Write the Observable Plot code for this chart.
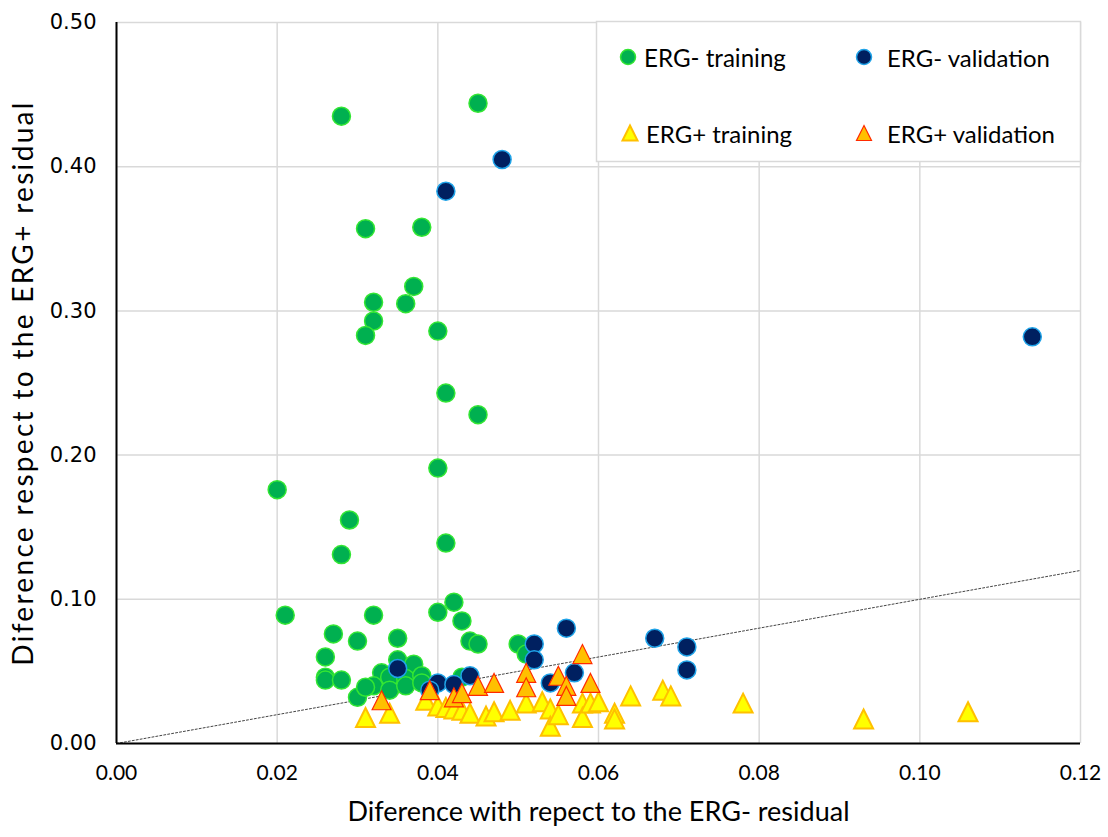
<!DOCTYPE html>
<html><head><meta charset="utf-8">
<script src="https://cdn.jsdelivr.net/npm/d3@7"></script>
<script src="https://cdn.jsdelivr.net/npm/@observablehq/plot@0.6"></script>
<style>
body{margin:0;background:#fff;}
#chart{position:relative;width:1108px;height:837px;}
</style></head><body><div id="chart"></div>
<script>
// ---- data ----
const seriesNames = ["ERG- training", "ERG- validation", "ERG+ training", "ERG+ validation"];
const xTicks = [0, 0.02, 0.04, 0.06, 0.08, 0.10, 0.12];
const yTicks = [0, 0.1, 0.2, 0.3, 0.4, 0.5];
const diagonal = [0, 0.12];
const xTitle = "Diference with repect to the ERG- residual";
const yTitle = "Diference respect to the ERG+ residual";

const ergMinusTrainX = [0.028,0.045,0.031,0.038,0.032,0.037,0.036,0.032,0.031,0.040,0.041,0.045,0.040,0.020,0.029,0.041,0.028,0.021,0.042,0.032,0.040,0.043,0.027,0.030,0.035,0.044,0.045,0.050,0.051,0.026,0.026,0.026,0.028,0.030,0.035,0.037,0.033,0.032,0.034,0.036,0.038,0.031,0.034,0.036,0.038,0.043];
const ergMinusTrainY = [0.435,0.444,0.357,0.358,0.306,0.317,0.305,0.293,0.283,0.286,0.243,0.228,0.191,0.176,0.155,0.139,0.131,0.089,0.098,0.089,0.091,0.085,0.076,0.071,0.073,0.071,0.069,0.069,0.062,0.060,0.046,0.044,0.044,0.032,0.058,0.055,0.049,0.040,0.046,0.045,0.047,0.039,0.037,0.040,0.042,0.046];

const ergMinusValX = [0.048,0.041,0.114,0.056,0.052,0.052,0.057,0.054,0.067,0.071,0.071,0.035,0.040,0.042,0.044,0.039];
const ergMinusValY = [0.405,0.383,0.282,0.080,0.069,0.058,0.049,0.042,0.073,0.067,0.051,0.052,0.042,0.041,0.047,0.037];

const ergPlusTrainX = [0.031,0.034,0.0385,0.040,0.041,0.042,0.043,0.044,0.046,0.047,0.049,0.051,0.053,0.054,0.054,0.055,0.058,0.058,0.059,0.060,0.062,0.062,0.064,0.068,0.069,0.078,0.093,0.106];
const ergPlusTrainY = [0.018,0.021,0.030,0.026,0.025,0.024,0.023,0.021,0.019,0.022,0.023,0.028,0.029,0.024,0.012,0.020,0.028,0.018,0.028,0.029,0.021,0.017,0.033,0.037,0.033,0.028,0.017,0.022];

const ergPlusValX = [0.033,0.039,0.042,0.043,0.045,0.047,0.051,0.051,0.055,0.056,0.056,0.058,0.059];
const ergPlusValY = [0.030,0.037,0.032,0.035,0.040,0.042,0.049,0.039,0.047,0.040,0.033,0.062,0.042];

// ---- build tables ----
const toRows = (xs, ys) => xs.map((x, i) => ({x, y: ys[i]}));
const gTrain = toRows(ergMinusTrainX, ergMinusTrainY);
const gVal = toRows(ergMinusValX, ergMinusValY);
const pTrain = toRows(ergPlusTrainX, ergPlusTrainY);
const pVal = toRows(ergPlusValX, ergPlusValY);

// triangle fitting a square box (Excel-style marker)
const triangleBox = {
  draw(context, size) {
    const a = Math.sqrt(size / Math.PI);
    context.moveTo(0, -a);
    context.lineTo(a, a);
    context.lineTo(-a, a);
    context.closePath();
  }
};

const styles = [
  {symbol: "circle", fill: "#00b050", stroke: "#33e633", strokeWidth: 1.5},
  {symbol: "circle", fill: "#002060", stroke: "#1fa3e8", strokeWidth: 1.5},
  {symbol: triangleBox, fill: "#ffff00", stroke: "#ffc000", strokeWidth: 2},
  {symbol: triangleBox, fill: "#ffc000", stroke: "#ff2a00", strokeWidth: 1.2}
];

const plot = Plot.plot({
  width: 1108, height: 837,
  marginLeft: 116, marginRight: 28, marginTop: 22, marginBottom: 94,
  x: {domain: [0, 0.12]},
  y: {domain: [0, 0.5]},
  style: {background: "#fff", overflow: "visible"},
  marks: [
    Plot.ruleX(xTicks, {stroke: "#d9d9d9", strokeWidth: 1.5}),
    Plot.ruleY(yTicks, {stroke: "#d9d9d9", strokeWidth: 1.5}),
    Plot.line(diagonal, {x: d => d, y: d => d, stroke: "#444", strokeWidth: 1, strokeDasharray: "2,2"}),
    Plot.dot(gTrain, {x: "x", y: "y", r: 9, ...styles[0]}),
    Plot.dot(gVal, {x: "x", y: "y", r: 9, ...styles[1]}),
    Plot.dot(pTrain, {x: "x", y: "y", r: 9.5, ...styles[2]}),
    Plot.dot(pVal, {x: "x", y: "y", r: 9.5, ...styles[3]}),
    Plot.ruleX([0], {stroke: "#000", strokeWidth: 2}),
    Plot.ruleY([0], {stroke: "#000", strokeWidth: 2}),
    Plot.axisX({ticks: xTicks, tickFormat: d3.format(".2f"), tickSize: 0, tickPadding: 22, fontSize: 21, fontFamily: "Lato", label: null, fill: "#000"}),
    Plot.axisY({ticks: yTicks, tickFormat: d3.format(".2f"), tickSize: 0, tickPadding: 20, fontSize: 21, fontFamily: "DejaVu Sans", label: null, fill: "#000"}),
    Plot.text([xTitle], {text: d => d, frameAnchor: "bottom", textAnchor: "middle", dy: 77, fontSize: 26, fontFamily: "Lato", fill: "#000", className: "xtitle"}),
    Plot.text([yTitle], {text: d => d, frameAnchor: "left", textAnchor: "middle", dx: -92, rotate: -90, fontSize: 26, fontFamily: "Lato", fill: "#000", className: "ytitle"})
  ]
});

// ---- legend (inside plot area, as in the reference) ----
const svg = d3.select(plot);
const lg = svg.append("g").attr("class", "legend");
lg.append("rect").attr("x", 596.5).attr("y", 21.5).attr("width", 484).attr("height", 140)
  .attr("fill", "#fff").attr("stroke", "#d9d9d9").attr("stroke-width", 1.5);
const legendPos = [[628, 57], [864, 57], [630, 133], [864, 133]];
const legendTextWidth = [142, 163, 146, 168];
seriesNames.forEach((name, i) => {
  const s = styles[i];
  const [lx, ly] = legendPos[i];
  const type = s.symbol === "circle" ? d3.symbolCircle : s.symbol;
  lg.append("path")
    .attr("d", d3.symbol(type, Math.PI * 7.5 * 7.5)())
    .attr("transform", `translate(${lx},${ly})`)
    .attr("fill", s.fill).attr("stroke", s.stroke).attr("stroke-width", s.strokeWidth);
  lg.append("text")
    .attr("class", "lgtext").attr("data-w", legendTextWidth[i])
    .attr("x", lx + (i % 2 === 0 ? 16 : 23)).attr("y", ly)
    .attr("text-anchor", "start")
    .attr("dominant-baseline", "central")
    .attr("font-family", "Lato").attr("font-size", 22).attr("fill", "#000")
    .text(name);
});

document.getElementById("chart").appendChild(plot);

// fit text sizes to the widths seen in the reference
function fit(sel, target) {
  sel.each(function() {
    const el = this;
    const fs = parseFloat(getComputedStyle(el).fontSize) || 22;
    const w = el.getComputedTextLength();
    if (w > 0) {
      el.setAttribute("font-size", (fs * target / w).toFixed(2));
      el.style.fontSize = (fs * target / w).toFixed(2) + "px";
    }
  });
}
// keep glyph size, reach the reference length with letter spacing
function fitSpacing(sel, size, target) {
  sel.each(function() {
    const el = this;
    el.setAttribute("font-size", size);
    el.style.fontSize = size + "px";
    const w = el.getComputedTextLength();
    const n = (el.textContent || "").length;
    if (w > 0 && n > 1) el.style.letterSpacing = ((target - w) / (n - 1)).toFixed(2) + "px";
  });
}
fit(svg.selectAll(".xtitle text"), 502);
fitSpacing(svg.selectAll(".ytitle text"), 28, 563);
svg.selectAll(".lgtext").each(function() { fit(d3.select(this), +this.getAttribute("data-w")); });
</script>
</body></html>
